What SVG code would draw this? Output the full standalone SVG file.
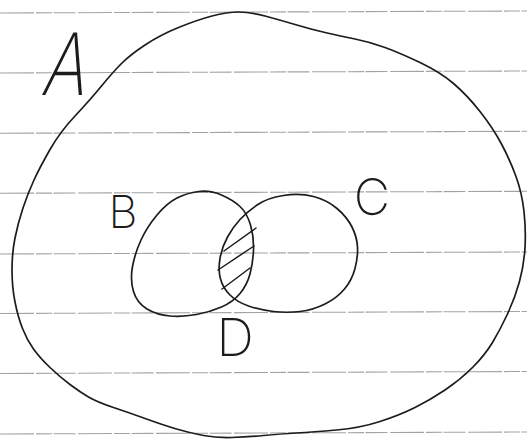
<svg xmlns="http://www.w3.org/2000/svg" width="527" height="439" viewBox="0 0 527 439">
  <style>
    .paper { stroke: #a3a3a3; stroke-width: 1.1; stroke-dasharray: 34 2 16 1.5 22 2.5; fill: none; }
    .set { fill: none; stroke: #1c1c1c; stroke-width: 1.7; stroke-linejoin: round; stroke-linecap: round; }
    .hatch { fill: none; stroke: #1c1c1c; stroke-width: 1.5; stroke-linecap: round; }
    .lbl { font-family: Inter, Roboto, "DejaVu Sans", sans-serif; font-weight: 200; fill: #1c1c1c; text-anchor: middle; }
  </style>
  <rect x="0" y="0" width="527" height="439" fill="#ffffff"/>
  <g id="paper-lines">
    <line class="paper" x1="0" y1="13" x2="527" y2="11"/>
    <line class="paper" x1="0" y1="73" x2="527" y2="71"/>
    <line class="paper" x1="0" y1="133.3" x2="527" y2="131.3"/>
    <line class="paper" x1="0" y1="193.3" x2="527" y2="191.3"/>
    <line class="paper" x1="0" y1="254" x2="527" y2="252"/>
    <line class="paper" x1="0" y1="313.5" x2="527" y2="311.5"/>
    <line class="paper" x1="0" y1="373.5" x2="527" y2="371.5"/>
    <line class="paper" x1="0" y1="434" x2="527" y2="432"/>
  </g>
  <g id="set-A">
    <path class="set" d="M 238.5,12 Q 250,12 265,16 Q 280,20 295,24.5 Q 310,29 325,32.5 Q 340,36 355,39 Q 370,42 385,47.5 Q 400,53 420,62.5 Q 440,72 453.5,83.5 Q 467,95 480,111.5 Q 493,128 501.5,144 Q 510,160 516,176.5 Q 522,193 524,211.5 Q 526,230 525,247.5 Q 524,265 519.5,281.5 Q 515,298 507.5,314 Q 500,330 492.5,342.5 Q 485,355 472.5,367.5 Q 460,380 445,390 Q 430,400 415,407.5 Q 400,415 380,421.5 Q 360,428 336.5,430 Q 313,432 296.5,433 Q 280,434 263.5,435.5 Q 247,437 232,437.5 Q 217,438 203.5,435.5 Q 190,433 176.5,429 Q 163,425 146.5,419 Q 130,413 113.5,407.5 Q 97,402 88.5,397 Q 80,392 70,384.5 Q 60,377 50,367.5 Q 40,358 33.5,349 Q 27,340 22.5,328.5 Q 18,317 15,302 Q 12,287 12,270 Q 12,253 15,238 Q 18,223 23,208 Q 28,193 34,180 Q 40,167 50,149.5 Q 60,132 75,116 Q 90,100 101.5,86 Q 113,72 121.5,63.5 Q 130,55 145,45 Q 160,35 178.5,27.5 Q 197,20 212,16 Q 227,12 238.5,12 Z"/>
    <text class="lbl" transform="translate(62,95) skewX(-12) scale(0.78,1)" font-size="86">A</text>
  </g>
  <g id="set-B">
    <path class="set" d="M 221.5,195 Q 233,200 240,206.5 Q 247,213 250.5,225 Q 254,237 253.5,250 Q 253,263 250,274 Q 247,285 240,293.5 Q 233,302 221.5,307 Q 210,312 196.5,314.5 Q 183,317 170,316 Q 157,315 147,309 Q 137,303 133.5,291.5 Q 130,280 132.5,266.5 Q 135,253 141,240 Q 147,227 157,215 Q 167,203 177,198 Q 187,193 198.5,191.5 Q 210,190 221.5,195 Z"/>
    <text class="lbl" x="123" y="228" font-size="45">B</text>
  </g>
  <g id="set-C">
    <path class="set" d="M 313.5,196.5 Q 327,200 337,208.5 Q 347,217 352,227 Q 357,237 357.5,247 Q 358,257 355,268.5 Q 352,280 344.5,289 Q 337,298 325,304 Q 313,310 300,311.5 Q 287,313 273.5,311.5 Q 260,310 248.5,306 Q 237,302 230,295 Q 223,288 220.5,279 Q 218,270 220,258.5 Q 222,247 227.5,237 Q 233,227 240,219.5 Q 247,212 257,205 Q 267,198 283.5,195.5 Q 300,193 313.5,196.5 Z"/>
    <text class="lbl" x="372" y="215" font-size="50">C</text>
  </g>
  <g id="region-D">
    <line class="hatch" x1="224" y1="251" x2="256" y2="228"/>
    <line class="hatch" x1="218" y1="270" x2="254" y2="246"/>
    <line class="hatch" x1="222" y1="289" x2="250" y2="268"/>
    <text class="lbl" x="235" y="356" font-size="52">D</text>
  </g>
</svg>
